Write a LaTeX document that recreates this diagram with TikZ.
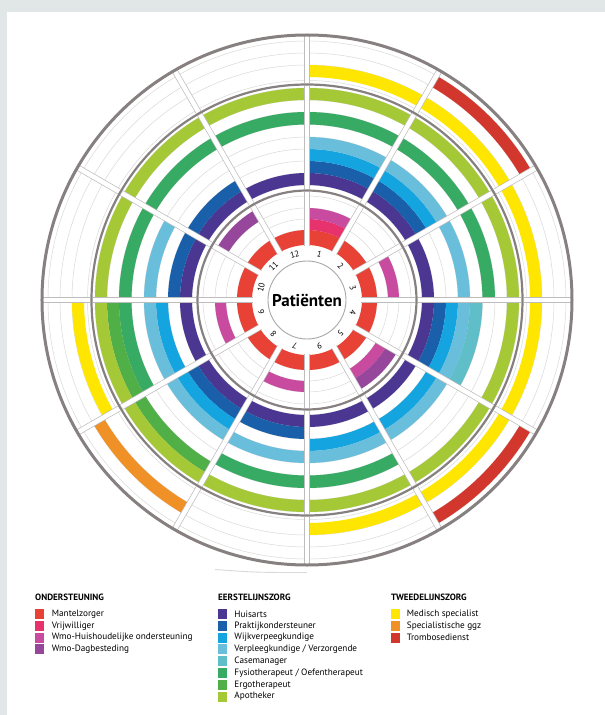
\documentclass[tikz,border=0pt]{standalone}
\usepackage{fontspec}
\setmainfont{PT Sans}
\definecolor{bggray}{HTML}{E1E6E6}
\definecolor{ringc}{HTML}{D9D9D9}
\definecolor{sepc}{HTML}{BDBDBD}
\definecolor{boundc}{HTML}{878080}
\definecolor{patc}{HTML}{A8A8A8}
\definecolor{mz}{HTML}{E84136}
\definecolor{vw}{HTML}{E8326E}
\definecolor{wh}{HTML}{C84BA0}
\definecolor{wd}{HTML}{96469B}
\definecolor{hu}{HTML}{4B3791}
\definecolor{pr}{HTML}{195FAA}
\definecolor{wi}{HTML}{14A5E1}
\definecolor{ve}{HTML}{69BEDC}
\definecolor{ca}{HTML}{5FBEC8}
\definecolor{fy}{HTML}{37AA64}
\definecolor{er}{HTML}{50AF46}
\definecolor{ap}{HTML}{A5C837}
\definecolor{ms}{HTML}{FFE600}
\definecolor{gg}{HTML}{F09128}
\definecolor{tr}{HTML}{D2372D}
\tikzset{
  ringline/.style={draw=ringc, line width=0.5pt},
  bound/.style={draw=boundc, line width=2.2pt},
  sepedge/.style={draw=sepc, line width=6pt},
  sepfill/.style={draw=white, line width=4.6pt},
  legtext/.style={anchor=west, inner sep=0pt, font=\fontsize{9.2}{10}\selectfont},
  leghead/.style={anchor=west, inner sep=0pt, font=\bfseries\fontsize{9.1}{9}\selectfont},
  swatch/.style={minimum width=9pt, minimum height=10pt, inner sep=0pt, anchor=west, draw=none},
  numlab/.style={font=\fontsize{8.5}{8.5}\selectfont, inner sep=0pt},
}
\newcommand\cellband[4]{%
  \pgfmathsetmacro\sa{90-30*(#1-1)}%
  \pgfmathsetmacro\ea{90-30*#1}%
  \fill[#4] (\sa:#2) arc[start angle=\sa, end angle=\ea, radius=#2] -- (\ea:#3) arc[start angle=\ea, end angle=\sa, radius=#3] -- cycle;}
\begin{document}
\begin{tikzpicture}[x=1pt,y=1pt]
\useasboundingbox (-307,-415) rectangle (298,300);
\fill[bggray] (-307,-415) rectangle (298,300);
\fill[white] (-300,-415) rectangle (298,288);
% ring lines
\foreach \r in {70,81,92,104, 115,127,139,151,163,175.5,188,200,212, 219.5,235,247,259}
  \draw[ringline] (0,0) circle[radius=\r];
% inner zone: ondersteuning
\foreach \s in {1,...,12} {\cellband{\s}{55}{70}{mz}}
\foreach \s in {1} {\cellband{\s}{70}{81}{vw}}
\foreach \s in {1,3,5,7,9} {\cellband{\s}{81}{92}{wh}}
\foreach \s in {5,11} {\cellband{\s}{92}{104}{wd}}
% middle zone: eerstelijnszorg
\foreach \s in {1,...,12} {\cellband{\s}{115}{127}{hu}}
\foreach \s in {1,2,4,7,8,10,11} {\cellband{\s}{127}{139}{pr}}
\foreach \s in {1,2,4,5,6,8,9} {\cellband{\s}{139}{151}{wi}}
\foreach \s in {1,2,3,4,5,6,7,8,9,10} {\cellband{\s}{151}{163}{ve}}
\foreach \s in {4} {\cellband{\s}{163}{175.5}{ca}}
\foreach \s in {1,2,3,6,7,9,10,11,12} {\cellband{\s}{175.5}{188}{fy}}
\foreach \s in {8,9} {\cellband{\s}{188}{200}{er}}
\foreach \s in {1,...,12} {\cellband{\s}{200}{212}{ap}}
% outer zone: tweedelijnszorg
\foreach \s in {1,2,3,4,5,6,9} {\cellband{\s}{223}{235}{ms}}
\foreach \s in {8} {\cellband{\s}{235}{247}{gg}}
\foreach \s in {2,5} {\cellband{\s}{247}{259}{tr}}
% separators
\foreach \a in {0,30,...,330} {
  \draw[sepedge] (\a:54) -- (\a:108);
  \draw[sepedge] (\a:111) -- (\a:214);
  \draw[sepedge] (\a:217) -- (\a:264);
  \draw[sepfill] (\a:53.5) -- (\a:108);
  \draw[sepfill] (\a:111) -- (\a:214);
  \draw[sepfill] (\a:217) -- (\a:264);
}
% zone boundaries
\draw[bound] (0,0) circle[radius=109.5];
\draw[bound] (0,0) circle[radius=215.5];
\draw[draw=boundc, line width=3pt] (0,0) circle[radius=265];
\draw[draw=ringc, line width=0.9pt] (-92,-269.5) .. controls (-50,-272.5) .. (0,-272.5);
% patienten
\draw[draw=patc, line width=0.9pt, fill=white] (0,0) circle[radius=39];
\node[font=\bfseries\fontsize{17}{17}\selectfont, inner sep=0pt] (pat) at (0,0) {Patiënten};
\foreach \k/\t in {1/1,2/2,3/3,4/4,5/5,6/9,7/7,8/8,9/6,10/10,11/11,12/12} {
  \pgfmathsetmacro\ang{105-30*\k}
  \node[numlab, rotate=\ang-90] (n\k) at (\ang:47.5) {\t};
}
% legend
\node[leghead] (h1) at (-272,-297) {ONDERSTEUNING};
\node[swatch, fill=mz] (s10) at (-272,-314) {};
\node[legtext] (t10) at (-255.3,-314) {Mantelzorger};
\node[swatch, fill=vw] (s11) at (-272,-325.8) {};
\node[legtext] (t11) at (-255.3,-325.8) {Vrijwilliger};
\node[swatch, fill=wh] (s12) at (-272,-337.6) {};
\node[legtext] (t12) at (-255.3,-337.6) {Wmo-Huishoudelijke ondersteuning};
\node[swatch, fill=wd] (s13) at (-272,-349.4) {};
\node[legtext] (t13) at (-255.3,-349.4) {Wmo-Dagbesteding};
\node[leghead] (h2) at (-89,-297) {EERSTELIJNSZORG};
\node[swatch, fill=hu] (s20) at (-89,-314) {};
\node[legtext] (t20) at (-72.7,-314) {Huisarts};
\node[swatch, fill=pr] (s21) at (-89,-325.8) {};
\node[legtext] (t21) at (-72.7,-325.8) {Praktijkondersteuner};
\node[swatch, fill=wi] (s22) at (-89,-337.6) {};
\node[legtext] (t22) at (-72.7,-337.6) {Wijkverpeegkundige};
\node[swatch, fill=ve] (s23) at (-89,-349.4) {};
\node[legtext] (t23) at (-72.7,-349.4) {Verpleegkundige / Verzorgende};
\node[swatch, fill=ca] (s24) at (-89,-361.2) {};
\node[legtext] (t24) at (-72.7,-361.2) {Casemanager};
\node[swatch, fill=fy] (s25) at (-89,-373) {};
\node[legtext] (t25) at (-72.7,-373) {Fysiotherapeut / Oefentherapeut};
\node[swatch, fill=er] (s26) at (-89,-384.8) {};
\node[legtext] (t26) at (-72.7,-384.8) {Ergotherapeut};
\node[swatch, fill=ap] (s27) at (-89,-396.6) {};
\node[legtext] (t27) at (-72.7,-396.6) {Apotheker};
\node[leghead] (h3) at (84,-297) {TWEEDELIJNSZORG};
\node[swatch, fill=ms] (s30) at (84,-314) {};
\node[legtext] (t30) at (99.7,-314) {Medisch specialist};
\node[swatch, fill=gg] (s31) at (84,-325.8) {};
\node[legtext] (t31) at (99.7,-325.8) {Specialistische ggz};
\node[swatch, fill=tr] (s32) at (84,-337.6) {};
\node[legtext] (t32) at (99.7,-337.6) {Trombosedienst};
\end{tikzpicture}
\end{document}
